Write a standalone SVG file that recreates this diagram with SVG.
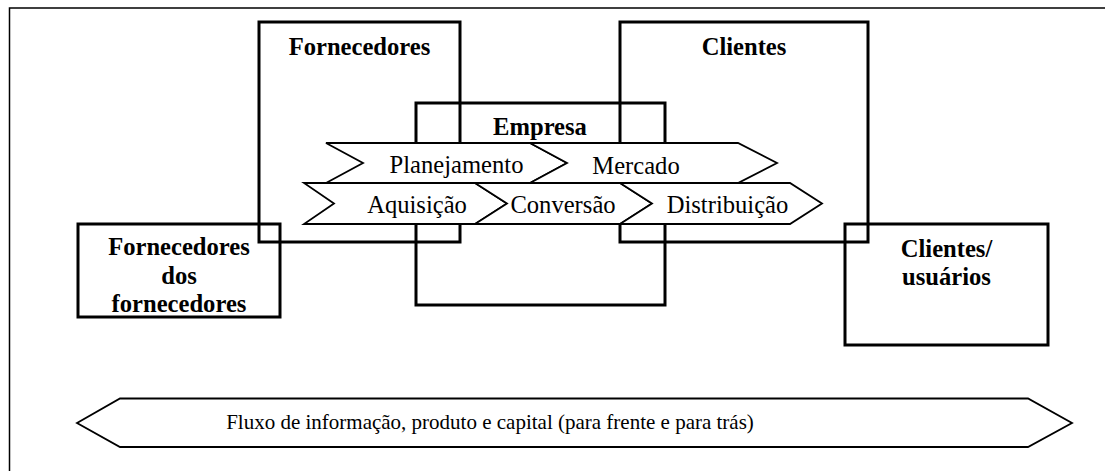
<svg xmlns="http://www.w3.org/2000/svg" width="1105" height="471" viewBox="0 0 1105 471">
<style>
.box{fill:none;stroke:#000;stroke-width:3}
.chev{fill:#fff;stroke:#000;stroke-width:1.8;stroke-linejoin:miter}
.title{font-family:"Liberation Serif","Times New Roman",serif;font-weight:bold;font-size:24.6px;fill:#000;text-anchor:middle}
.lbl{font-family:"Liberation Serif","Times New Roman",serif;font-size:24.6px;fill:#000;text-anchor:middle}
.flow{font-family:"Liberation Serif","Times New Roman",serif;font-size:21px;fill:#000;text-anchor:middle}
</style>
<rect x="0" y="0" width="1105" height="471" fill="#fff"/>
<rect id="frame" x="9.5" y="8" width="1110" height="480" fill="none" stroke="#000" stroke-width="1.5"/>
<g id="fornecedores">
<rect class="box" x="259" y="22" width="201" height="220"/>
<text class="title" x="359.5" y="55">Fornecedores</text>
</g>
<g id="clientes">
<rect class="box" x="620" y="22" width="248" height="220"/>
<text class="title" x="744" y="55">Clientes</text>
</g>
<g id="fornecedores-dos-fornecedores">
<rect class="box" x="78" y="224" width="202" height="93"/>
<text class="title" x="179" y="255">Fornecedores</text>
<text class="title" x="179" y="283.5">dos</text>
<text class="title" x="179" y="312">fornecedores</text>
</g>
<g id="clientes-usuarios">
<rect class="box" x="845" y="224" width="203" height="121"/>
<text class="title" x="946.5" y="257">Clientes/</text>
<text class="title" x="946.5" y="285">usuários</text>
</g>
<g id="empresa">
<rect class="box" x="416" y="103" width="249" height="202"/>
<text class="title" x="540" y="135">Empresa</text>
</g>
<g id="connectors">
<g id="planejamento">
<polygon class="chev" points="326,143 530,143 567,163 530,183 326,183 363,163"/>
<text class="lbl" x="456.5" y="173">Planejamento</text>
</g>
<g id="mercado">
<polygon class="chev" points="530,143 738,143 777,163 738,183 530,183 567,163"/>
<text class="lbl" x="636" y="174">Mercado</text>
</g>
<g id="aquisicao">
<polygon class="chev" points="304,183 475,183 507,203.5 475,224 304,224 334,203.5"/>
<text class="lbl" x="417" y="213">Aquisição</text>
</g>
<g id="conversao">
<polygon class="chev" points="475,183 620,183 652,203.5 620,224 475,224 507,203.5"/>
<text class="lbl" x="563" y="213">Conversão</text>
</g>
<g id="distribuicao">
<polygon class="chev" points="620,183 790,183 822,203.5 790,224 620,224 652,203.5"/>
<text class="lbl" x="727.5" y="213">Distribuição</text>
</g>
<g id="fluxo">
<polygon class="chev" stroke-width="2" points="77,423 120,398.5 1028,398.5 1072,423 1028,447 120,447"/>
<text class="flow" x="490" y="429">Fluxo de informação, produto e capital (para frente e para trás)</text>
</g>
</g>
</svg>
